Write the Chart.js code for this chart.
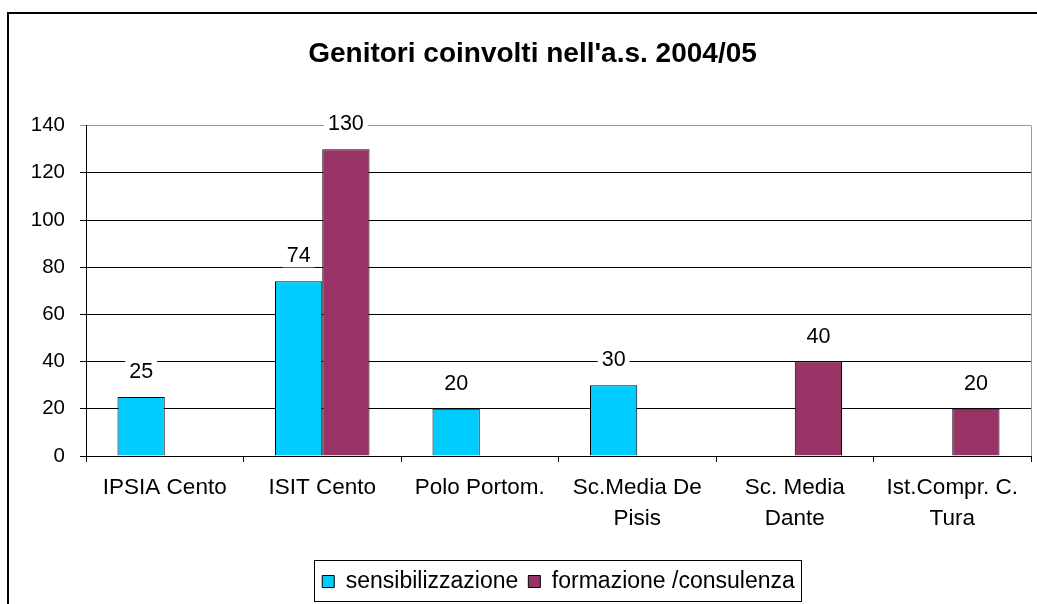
<!DOCTYPE html>
<html>
<head>
<meta charset="utf-8">
<script src="https://cdn.jsdelivr.net/npm/chart.js@4/dist/chart.umd.min.js"></script>
<style>
  html, body { margin: 0; padding: 0; background: #fff; }
  #wrap { width: 1037px; height: 604px; }
</style>
</head>
<body>
<div id="wrap"><canvas id="myChart1" width="1037" height="604"></canvas></div>
<script>
//------------------ dati ------------------//
const TITLE = "Genitori coinvolti nell'a.s. 2004/05"
const CATEGORIES = ['IPSIA Cento', 'ISIT Cento', 'Polo Portom.', ['Sc.Media De', 'Pisis'], ['Sc. Media', 'Dante'], ['Ist.Compr. C.', 'Tura']]
const SERIES_NAMES = ['sensibilizzazione', 'formazione /consulenza']
const SENSIBILIZZAZIONE = [25, 74, 20, 30, null, null]
const FORMAZIONE = [null, 130, null, null, 40, 20]
const Y_MIN = 0, Y_MAX = 140, Y_STEP = 20
const COLORS = ['#00CCFF', '#993366']
const FONT = 'Arial, "Liberation Sans", sans-serif'
//------------------------------------------//

// cornice, bordo destro area grafico, etichette dati, riquadro legenda
const decorPlugin = {
    id: 'decor',
    afterLayout(chart) {
        // spostamento orizzontale di titolo e legenda come nell'originale
        chart.titleBlock.left += 7; chart.titleBlock.right += 7
        chart.legend.left += 33; chart.legend.right += 33
    },
    beforeDraw(chart) {
        const ctx = chart.ctx
        ctx.save()
        ctx.fillStyle = '#fff'
        ctx.fillRect(0, 0, chart.width, chart.height)
        ctx.strokeStyle = '#000'
        ctx.lineWidth = 2
        ctx.beginPath()
        ctx.moveTo(8, chart.height)
        ctx.lineTo(8, 13)
        ctx.lineTo(chart.width, 13)
        ctx.stroke()
        ctx.restore()
    },
    afterDatasetsDraw(chart) {
        const ctx = chart.ctx
        const a = chart.chartArea
        ctx.save()
        ctx.strokeStyle = '#999'
        ctx.lineWidth = 1
        ctx.beginPath()
        ctx.moveTo(a.right + 0.5, a.top)
        ctx.lineTo(a.right + 0.5, a.bottom)
        ctx.stroke()
        // etichette dati
        ctx.font = '21.5px ' + FONT
        ctx.textAlign = 'center'
        ctx.textBaseline = 'middle'
        chart.data.datasets.forEach((ds, di) => {
            chart.getDatasetMeta(di).data.forEach((bar, i) => {
                const v = ds.data[i]
                if (v == null) return
                const y = bar.y - 26
                const w = ctx.measureText(String(v)).width + 8
                ctx.fillStyle = '#fff'
                ctx.fillRect(bar.x - w / 2, y - 12, w, 24)
                ctx.fillStyle = '#000'
                ctx.fillText(String(v), bar.x, y + 1)
            })
        })
        ctx.restore()
    },
    afterDraw(chart) {
        const lg = chart.legend
        const pad = lg.options.labels.padding
        const lw = lg.lineWidths[0]
        const x0 = (lg.left + pad + lg.right - lw) / 2
        const ctx = chart.ctx
        ctx.save()
        ctx.strokeStyle = '#000'
        ctx.lineWidth = 1
        ctx.strokeRect(Math.round(x0 - 8) + 0.5, Math.round(lg.top) + 0.5, Math.round(lw - pad + 14), 41)
        ctx.restore()
    }
}

const ctx = document.getElementById('myChart1')
window.myChart = new Chart(ctx, {
    type: 'bar',
    data: {
        labels: CATEGORIES,
        datasets: [
            { label: SERIES_NAMES[0], data: SENSIBILIZZAZIONE, backgroundColor: COLORS[0], borderColor: '#000', borderWidth: 1 },
            { label: SERIES_NAMES[1], data: FORMAZIONE, backgroundColor: COLORS[1], borderColor: '#000', borderWidth: 1 }
        ]
    },
    options: {
        responsive: false,
        animation: false,
        layout: { padding: { left: 20, right: 6, top: 0, bottom: 1 } },
        datasets: { bar: { categoryPercentage: 0.6, barPercentage: 1.0 } },
        plugins: {
            title: {
                display: true,
                text: TITLE,
                color: '#000',
                font: { family: FONT, size: 28, weight: 'bold', lineHeight: 1.2 },
                padding: { top: 37, bottom: 55 }
            },
            legend: {
                position: 'bottom',
                labels: {
                    color: '#000',
                    font: { family: FONT, size: 23 },
                    boxWidth: 12,
                    boxHeight: 12,
                    padding: 10
                }
            },
            tooltip: { enabled: false }
        },
        scales: {
            x: {
                grid: { offset: true, drawOnChartArea: false, color: '#000', tickLength: 6 },
                border: { color: '#000' },
                ticks: { color: '#000', font: { family: FONT, size: 22.5, lineHeight: 1.35 }, padding: 11, maxRotation: 0, autoSkip: false },
                afterFit(scale) { scale.height = 104 }
            },
            y: {
                min: Y_MIN,
                max: Y_MAX,
                grid: { color: (c) => c.tick && c.tick.value === Y_MAX ? '#999' : '#000', tickLength: 6 },
                border: { color: '#000' },
                ticks: { stepSize: Y_STEP, color: '#000', font: { family: FONT, size: 20.5 }, padding: 15 },
                afterFit(scale) { scale.width = 66 }
            }
        }
    },
    plugins: [decorPlugin]
})
</script>
</body>
</html>
